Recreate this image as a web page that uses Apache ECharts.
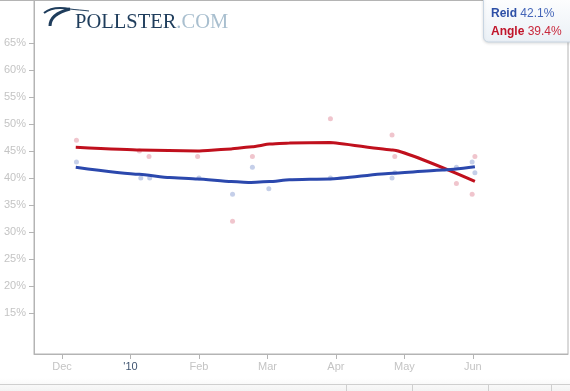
<!DOCTYPE html>
<html>
<head>
<meta charset="utf-8">
<script src="https://cdn.jsdelivr.net/npm/echarts@6/dist/echarts.min.js"></script>
<style>html,body{margin:0;padding:0;background:#fff;}#c{width:570px;height:391px;}</style>
</head>
<body>
<div id="c"></div>
<script>
// x positions are month indices: 0 = Dec 2009, 1 = Jan 2010 ('10), ... 6 = Jun 2010
const monthTicks = [0, 1, 2, 3, 4, 5, 6];
const monthLabels = ['Dec', "'10", 'Feb', 'Mar', 'Apr', 'May', 'Jun'];
const yTicks = [15, 20, 25, 30, 35, 40, 45, 50, 55, 60, 65];

const reidTrend = [[0.2,42.0],[1.13,40.7],[1.57,40.1],[1.98,39.85],[2.47,39.35],[2.74,39.2],[3.03,39.35],[3.32,39.7],[3.91,39.85],[4.83,40.9],[5.56,41.5],[6.03,42.1]];
const angleTrend = [[0.2,45.7],[1.13,45.2],[1.98,45.0],[2.47,45.4],[2.78,45.8],[3.03,46.3],[3.32,46.5],[3.91,46.6],[4.83,45.2],[6.03,39.4]];

const reidPolls = [[0.21,43],[1.15,40],[1.28,40],[2.0,40],[2.49,37],[2.78,42],[3.02,38],[3.92,40],[4.82,40],[4.86,41],[5.76,42],[5.99,43],[6.03,41]];
const anglePolls = [[0.21,47],[1.13,45],[1.27,44],[1.98,44],[2.49,32],[2.78,44],[3.92,51],[4.82,48],[4.86,44],[5.76,39],[5.99,37],[6.03,44]];

const legendReid = ['Reid', '42.1%'];
const legendAngle = ['Angle', '39.4%'];

const chart = echarts.init(document.getElementById('c'), null, {renderer: 'canvas'});
const FONT = '"Liberation Sans", Arial, Helvetica, sans-serif';
const frame = '#b4b4b4';
const vgrad = (c0, c1) => ({type: 'linear', x: 0, y: 0, x2: 0, y2: 1, colorStops: [{offset: 0, color: c0}, {offset: 1, color: c1}]});

chart.setOption({
  animation: false,
  backgroundColor: '#fff',
  grid: {left: 34, right: 2, top: 0, bottom: 37, show: true, borderColor: frame, borderWidth: 1},
  xAxis: {
    type: 'value', min: -0.41, max: 7.39,
    splitLine: {show: false},
    axisLine: {show: true, onZero: false, lineStyle: {color: frame}},
    axisTick: {show: true, length: 5, customValues: monthTicks, lineStyle: {color: frame}},
    axisLabel: {
      customValues: monthTicks, margin: 7,
      fontFamily: FONT, fontSize: 11, color: '#c4c4c4',
      formatter: v => {
        const i = Math.round(v);
        return i === 1 ? '{yr|' + monthLabels[i] + '}' : monthLabels[i];
      },
      rich: {yr: {color: '#3f5470', fontSize: 11, fontFamily: FONT}}
    }
  },
  yAxis: {
    type: 'value', min: 7.4, max: 73,
    splitLine: {show: false},
    axisLine: {show: true, onZero: false, lineStyle: {color: frame}},
    axisTick: {show: true, length: 5, customValues: yTicks, lineStyle: {color: frame}},
    axisLabel: {
      customValues: yTicks, margin: 8,
      fontFamily: FONT, fontSize: 11, color: '#c4c4c4',
      formatter: v => v + '%'
    }
  },
  series: [
    {type: 'scatter', data: anglePolls, symbolSize: 5, itemStyle: {color: '#ecb7c0'}, z: 1, silent: true},
    {type: 'scatter', data: reidPolls, symbolSize: 5, itemStyle: {color: '#b7c3e3'}, z: 1, silent: true},
    {type: 'line', data: angleTrend, showSymbol: false, smooth: 0.12, smoothMonotone: 'x',
     lineStyle: {color: '#c0101d', width: 3}, z: 3, silent: true},
    {type: 'line', data: reidTrend, showSymbol: false, smooth: 0.2, smoothMonotone: 'x',
     lineStyle: {color: '#2b48ad', width: 3}, z: 3, silent: true}
  ],
  graphic: [
    {type: 'line', shape: {x1: 0, y1: 0.5, x2: 570, y2: 0.5}, style: {stroke: frame, lineWidth: 1}},
    // logo swoosh
    {type: 'bezierCurve', shape: {x1: 44, y1: 13, cpx1: 50, cpy1: 8, cpx2: 60, cpy2: 7, x2: 70, y2: 9}, style: {fill: 'none', stroke: '#1f3d5c', lineWidth: 2}},
    {type: 'bezierCurve', shape: {x1: 70, y1: 9, cpx1: 77, cpy1: 10, cpx2: 82, cpy2: 10, x2: 89, y2: 11}, style: {fill: 'none', stroke: '#1f3d5c', lineWidth: 1}},
    {type: 'bezierCurve', shape: {x1: 70, y1: 9, cpx1: 58, cpy1: 12, cpx2: 50, cpy2: 18, x2: 50, y2: 26}, style: {fill: 'none', stroke: '#1f3d5c', lineWidth: 3}},
    {type: 'text', x: 75, y: 22.5, style: {
      text: '{a|POLLSTER}{b|.COM}', verticalAlign: 'middle',
      rich: {
        a: {fontFamily: '"Liberation Serif", "DejaVu Serif", serif', fontSize: 20.5, fill: '#1f3d5c'},
        b: {fontFamily: '"Liberation Serif", "DejaVu Serif", serif', fontSize: 20.5, fill: '#a9bfcf'}
      }
    }},
    // legend box
    {type: 'rect', shape: {x: 483.5, y: -6, width: 100, height: 48, r: 5},
     style: {fill: vgrad('#ffffff', '#eaf0f6'),
       stroke: '#c8d5e2', lineWidth: 1, shadowBlur: 3, shadowColor: 'rgba(0,0,0,0.12)', shadowOffsetY: 1}},
    {type: 'text', x: 491, y: 14, style: {
      text: '{n|' + legendReid[0] + '} {v|' + legendReid[1] + '}', verticalAlign: 'middle',
      rich: {n: {fontFamily: FONT, fontSize: 12, fontWeight: 'bold', fill: '#2d4fa6'},
             v: {fontFamily: FONT, fontSize: 12, fill: '#4465b8'}}
    }},
    {type: 'text', x: 491, y: 31.5, style: {
      text: '{n|' + legendAngle[0] + '} {v|' + legendAngle[1] + '}', verticalAlign: 'middle',
      rich: {n: {fontFamily: FONT, fontSize: 12, fontWeight: 'bold', fill: '#c0142a'},
             v: {fontFamily: FONT, fontSize: 12, fill: '#c8283c'}}
    }},
    // bottom toolbar edge
    {type: 'rect', shape: {x: 0, y: 378, width: 570, height: 13},
     style: {fill: vgrad('#ffffff', '#f3f3f3')}},
    {type: 'line', shape: {x1: 0, y1: 384.5, x2: 570, y2: 384.5}, style: {stroke: '#cfcfcf', lineWidth: 1}},
    {type: 'line', shape: {x1: 346.5, y1: 384, x2: 346.5, y2: 391}, style: {stroke: '#cfcfcf', lineWidth: 1}},
    {type: 'line', shape: {x1: 412.5, y1: 384, x2: 412.5, y2: 391}, style: {stroke: '#cfcfcf', lineWidth: 1}},
    {type: 'line', shape: {x1: 488.5, y1: 384, x2: 488.5, y2: 391}, style: {stroke: '#cfcfcf', lineWidth: 1}},
    {type: 'line', shape: {x1: 551.5, y1: 384, x2: 551.5, y2: 391}, style: {stroke: '#cfcfcf', lineWidth: 1}}
  ]
});
</script>
</body>
</html>
